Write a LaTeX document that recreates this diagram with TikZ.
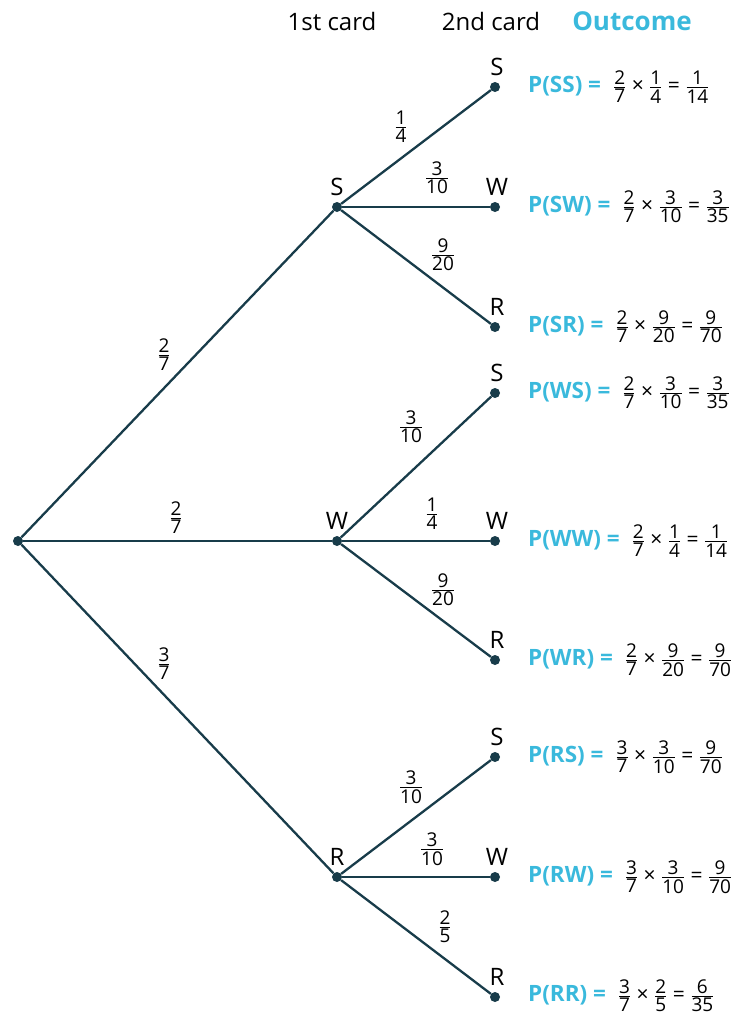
\documentclass[tikz,border=0pt]{standalone}
\usepackage{fontspec}
\setmainfont{Open Sans}
\usepackage{amsmath}
\usetikzlibrary{calc}
\definecolor{branch}{RGB}{24,60,74}
\definecolor{outblue}{RGB}{58,185,220}
\newcommand\fr[2]{$\genfrac{}{}{1.1pt}{1}{\hbox{\fontsize{19}{21}\selectfont#1}}{\hbox{\fontsize{19}{21}\selectfont#2}}$}
\newcommand\outc[2]{{\bfseries\color{outblue}\fontsize{22.5}{26}\selectfont P(#1) =}\hspace{12pt}#2}

\begin{document}
\begin{tikzpicture}[
  x=1pt,y=-1pt,
  every node/.style={font=\fontsize{24}{28}\selectfont},
  dot/.style={circle,fill=branch,inner sep=0pt,minimum size=10pt},
  edge/.style={draw=branch,line width=2.3pt},
  lab/.style={font=\fontsize{20}{22}\selectfont,inner sep=0pt},
  res/.style={anchor=west,inner sep=0pt,font=\fontsize{21}{24}\selectfont}
]
\useasboundingbox (0,0) rectangle (747,1015);
% headers
\node (h1) at (332,21) {1st card};
\node (h2) at (491,21) {2nd card};
\node[text=outblue,font=\bfseries\fontsize{26}{30}\selectfont] (h3) at (632,21) {Outcome};
% first level
\node[dot] (root) at (18,541) {};
\node[dot] (s) at (337,207) {};
\node[dot] (w) at (337,541) {};
\node[dot] (r) at (337,877) {};
\node (ls) at (337,187) {S};
\node (lw) at (337,521) {W};
\node (lr) at (337,857) {R};
\draw[edge] (root) -- (s);
\draw[edge] (root) -- (w);
\draw[edge] (root) -- (r);
\node[lab] (p1) at (164,355) {\fr{2}{7}};
\node[lab] (p2) at (176,518) {\fr{2}{7}};
\node[lab] (p3) at (164,664) {\fr{3}{7}};
% second level
\foreach \n/\y/\t in {ss/87/S,sw/207/W,sr/327/R,ws/393/S,ww/541/W,wr/660/R,rs/757/S,rw/877/W,rr/997/R} {
  \node[dot] (\n) at (495,\y) {};
  \node (l\n) at (497,\y-20) {\t};
}
\draw[edge] (s) -- (ss);
\draw[edge] (s) -- (sw);
\draw[edge] (s) -- (sr);
\draw[edge] (w) -- (ws);
\draw[edge] (w) -- (ww);
\draw[edge] (w) -- (wr);
\draw[edge] (r) -- (rs);
\draw[edge] (r) -- (rw);
\draw[edge] (r) -- (rr);
\node[lab] (q1) at (401,127) {\fr{1}{4}};
\node[lab] (q2) at (437,178) {\fr{3}{10}};
\node[lab] (q3) at (443,255) {\fr{9}{20}};
\node[lab] (q4) at (411,427) {\fr{3}{10}};
\node[lab] (q5) at (432,514) {\fr{1}{4}};
\node[lab] (q6) at (443,590) {\fr{9}{20}};
\node[lab] (q7) at (411,787) {\fr{3}{10}};
\node[lab] (q8) at (432,849) {\fr{3}{10}};
\node[lab] (q9) at (445,927) {\fr{2}{5}};
% outcomes
\node[res] (oss) at (528,87) {\outc{SS}{\fr{2}{7} × \fr{1}{4} = \fr{1}{14}}};
\node[res] (osw) at (528,207) {\outc{SW}{\fr{2}{7} × \fr{3}{10} = \fr{3}{35}}};
\node[res] (osr) at (528,327) {\outc{SR}{\fr{2}{7} × \fr{9}{20} = \fr{9}{70}}};
\node[res] (ows) at (528,393) {\outc{WS}{\fr{2}{7} × \fr{3}{10} = \fr{3}{35}}};
\node[res] (oww) at (528,541) {\outc{WW}{\fr{2}{7} × \fr{1}{4} = \fr{1}{14}}};
\node[res] (owr) at (528,660) {\outc{WR}{\fr{2}{7} × \fr{9}{20} = \fr{9}{70}}};
\node[res] (ors) at (528,757) {\outc{RS}{\fr{3}{7} × \fr{3}{10} = \fr{9}{70}}};
\node[res] (orw) at (528,877) {\outc{RW}{\fr{3}{7} × \fr{3}{10} = \fr{9}{70}}};
\node[res] (orr) at (528,996) {\outc{RR}{\fr{3}{7} × \fr{2}{5} = \fr{6}{35}}};
\end{tikzpicture}
\end{document}
